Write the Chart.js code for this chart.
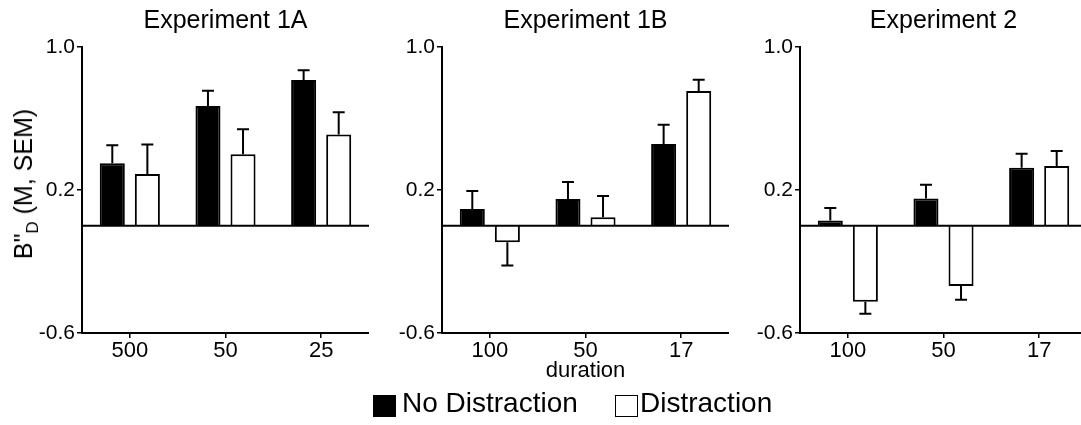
<!DOCTYPE html>
<html>
<head>
<meta charset="utf-8">
<script src="https://cdn.jsdelivr.net/npm/chart.js@4.4.0/dist/chart.umd.min.js"></script>
<style>
  html, body { margin: 0; padding: 0; background: #fff; overflow: hidden; }
  #wrap { position: relative; width: 1081px; height: 425px; overflow: hidden; font-family: "Liberation Sans", Arial, sans-serif; color: #000; }
  .panel { position: absolute; top: 0; height: 395px; }
  #ylab { position: absolute; left: 26px; top: 184px; transform: translate(-50%, -50%) rotate(-90deg); font-size: 25px; white-space: nowrap; }
  #ylab sub { font-size: 17px; }
  .lbox { position: absolute; top: 395px; width: 23px; height: 22px; box-sizing: border-box; border: 1.5px solid #000; }
  .ltxt { position: absolute; top: 389px; font-size: 28px; line-height: 28px; white-space: nowrap; }
</style>
</head>
<body>
<div id="wrap">
  <div class="panel" style="left:0px; width:369px;"><canvas id="graficoExp1A"></canvas></div>
  <div class="panel" style="left:372px; width:357px;"><canvas id="graficoExp1B"></canvas></div>
  <div class="panel" style="left:730px; width:357px;"><canvas id="graficoExp2"></canvas></div>
  <div id="ylab">B"<sub>D</sub> (M, SEM)</div>
  <div class="lbox" style="left:373px; background:#000;"></div>
  <span class="ltxt" style="left:402px;">No Distraction</span>
  <div class="lbox" style="left:615px; background:#fff;"></div>
  <span class="ltxt" style="left:640px;">Distraction</span>
</div>
<script>
// data
var yTicks = [-0.6, 0.2, 1.0];

var labels1A = ['500', '50', '25'];
var noDist1A = [0.35, 0.67, 0.815];
var noDistSem1A = [0.10, 0.085, 0.055];
var dist1A = [0.29, 0.40, 0.51];
var distSem1A = [0.165, 0.14, 0.125];

var labels1B = ['100', '50', '17'];
var noDist1B = [0.094, 0.15, 0.457];
var noDistSem1B = [0.10, 0.095, 0.108];
var dist1B = [-0.093, 0.047, 0.754];
var distSem1B = [0.13, 0.12, 0.063];

var labels2 = ['100', '50', '17'];
var noDist2 = [0.03, 0.153, 0.325];
var noDistSem2 = [0.07, 0.077, 0.078];
var dist2 = [-0.425, -0.337, 0.334];
var distSem2 = [0.067, 0.077, 0.084];

Chart.defaults.font.family = '"Liberation Sans", Arial, sans-serif';
Chart.defaults.color = '#000';

// SEM bars, drawn away from zero
var errorBars = {
    id: 'errorBars',
    afterDatasetsDraw: function (chart) {
        var ctx = chart.ctx;
        var y = chart.scales.y;
        ctx.save();
        ctx.strokeStyle = '#000';
        ctx.lineWidth = 2;
        chart.data.datasets.forEach(function (ds, i) {
            chart.getDatasetMeta(i).data.forEach(function (bar, j) {
                var v = ds.data[j];
                var end = v >= 0 ? v + ds.sem[j] : v - ds.sem[j];
                var yEnd = y.getPixelForValue(end);
                ctx.beginPath();
                ctx.moveTo(bar.x, bar.y);
                ctx.lineTo(bar.x, yEnd);
                ctx.moveTo(bar.x - 6, yEnd);
                ctx.lineTo(bar.x + 6, yEnd);
                ctx.stroke();
            });
        });
        ctx.restore();
    }
};

var zeroLine = {
    id: 'zeroLine',
    afterDatasetsDraw: function (chart) {
        var ctx = chart.ctx;
        var a = chart.chartArea;
        var y0 = chart.scales.y.getPixelForValue(0);
        ctx.save();
        ctx.strokeStyle = '#000';
        ctx.lineWidth = 2;
        ctx.beginPath();
        ctx.moveTo(a.left, y0);
        ctx.lineTo(a.right, y0);
        ctx.stroke();
        ctx.restore();
    }
};

// title centred over the plot area, not the whole canvas
var panelTitle = {
    id: 'panelTitle',
    afterDraw: function (chart, args, opts) {
        var ctx = chart.ctx;
        var a = chart.chartArea;
        ctx.save();
        ctx.font = '25px "Liberation Sans", Arial, sans-serif';
        ctx.fillStyle = '#000';
        ctx.textAlign = 'center';
        ctx.textBaseline = 'alphabetic';
        ctx.fillText(opts.text, (a.left + a.right) / 2, 28);
        ctx.restore();
    }
};

function grafico(id, titulo, labels, noDist, noDistSem, dist, distSem, anchoY, tituloX) {
    var ctx = document.getElementById(id).getContext('2d');
    return new Chart(ctx, {
        type: 'bar',
        data: {
            labels: labels,
            datasets: [{
                label: 'No Distraction',
                data: noDist,
                sem: noDistSem,
                backgroundColor: '#000',
                borderColor: '#000',
                borderWidth: 2
            }, {
                label: 'Distraction',
                data: dist,
                sem: distSem,
                backgroundColor: '#fff',
                borderColor: '#000',
                borderWidth: 2
            }]
        },
        options: {
            responsive: true,
            maintainAspectRatio: false,
            animation: false,
            layout: { padding: { top: 47, left: 0, right: 0, bottom: 0 } },
            datasets: { bar: { categoryPercentage: 0.733, barPercentage: 0.714 } },
            plugins: {
                legend: { display: false },
                tooltip: { enabled: false },
                panelTitle: { text: titulo }
            },
            scales: {
                x: {
                    grid: { offset: false, drawOnChartArea: false, color: '#000', lineWidth: 1.5, tickLength: 5 },
                    border: { color: '#000', width: 2 },
                    ticks: { font: { size: 22 }, padding: 0 },
                    title: { display: !!tituloX, text: tituloX || '', font: { size: 22 }, padding: { top: 0, bottom: 11 } },
                    afterFit: function (s) { s.height = 62; }
                },
                y: {
                    min: -0.6,
                    max: 1.0,
                    afterBuildTicks: function (s) { s.ticks = yTicks.map(function (v) { return { value: v }; }); },
                    grid: { drawOnChartArea: false, color: '#000', lineWidth: 1.5, tickLength: 5 },
                    border: { color: '#000', width: 2 },
                    ticks: { font: { size: 21 }, padding: 2, callback: function (v) { return Number(v).toFixed(1); } },
                    afterFit: function (s) { s.width = anchoY; }
                }
            }
        },
        plugins: [errorBars, zeroLine, panelTitle]
    });
}

grafico('graficoExp1A', 'Experiment 1A', labels1A, noDist1A, noDistSem1A, dist1A, distSem1A, 82, '');
grafico('graficoExp1B', 'Experiment 1B', labels1B, noDist1B, noDistSem1B, dist1B, distSem1B, 70, 'duration');
grafico('graficoExp2', 'Experiment 2', labels2, noDist2, noDistSem2, dist2, distSem2, 70, '');
</script>
</body>
</html>
